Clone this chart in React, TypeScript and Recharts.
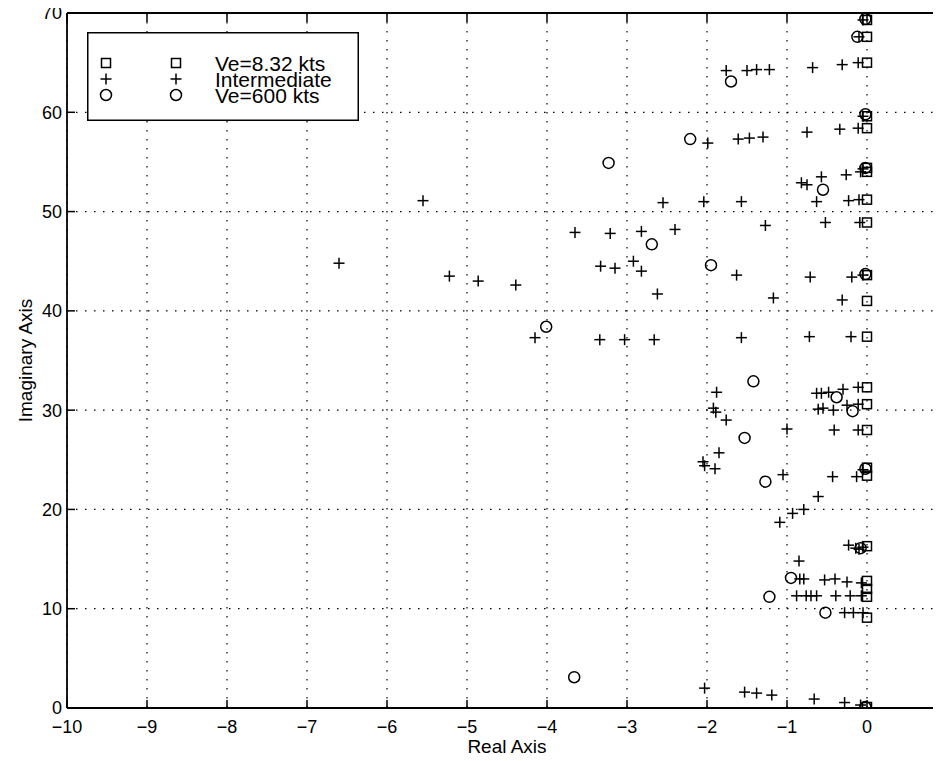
import React from 'react';
import { ScatterChart, Scatter, XAxis, YAxis, CartesianGrid, ReferenceLine } from 'recharts';

const xTicks = [-10, -9, -8, -7, -6, -5, -4, -3, -2, -1, 0];
const yTicks = [0, 10, 20, 30, 40, 50, 60, 70];
const seriesNames = ['Ve=8.32 kts', 'Intermediate', 'Ve=600 kts'];

// Ve = 8.32 kts (squares)
const lowSpeedPoles: [number, number][] = [
  [0, 69.3], [0, 67.6], [0, 65.0], [0, 59.6], [0, 58.4], [0, 54.4], [0, 54.0], [0, 51.2],
  [0, 48.9], [0, 43.6], [0, 41.0], [0, 37.4], [0, 32.3], [0, 30.6], [0, 28.0], [0, 24.2],
  [0, 23.4], [0, 16.3], [0, 12.8], [0, 12.0], [0, 11.2], [0, 9.1], [0, 0.1],
];

// Intermediate speeds (plus)
const intermediatePoles: [number, number][] = [
  [-0.05, 69.3], [-0.1, 67.6],
  [-1.76, 64.2], [-1.5, 64.2], [-1.38, 64.3], [-1.22, 64.3], [-0.68, 64.5], [-0.31, 64.8], [-0.11, 65.0],
  [-0.05, 59.6],
  [-1.99, 56.9], [-1.61, 57.3], [-1.47, 57.4], [-1.3, 57.5], [-0.75, 58.0], [-0.34, 58.3], [-0.11, 58.4],
  [-0.82, 52.9], [-0.75, 52.7], [-0.57, 53.5], [-0.26, 53.7], [-0.08, 54.0], [-0.05, 54.3],
  [-5.55, 51.1], [-2.55, 50.9], [-2.04, 51.0], [-1.57, 51.0], [-0.63, 51.0], [-0.23, 51.1], [-0.1, 51.2],
  [-3.65, 47.9], [-3.21, 47.8], [-2.82, 48.0], [-2.4, 48.2], [-1.27, 48.6], [-0.52, 48.9], [-0.09, 48.9],
  [-6.6, 44.8], [-3.33, 44.5], [-3.15, 44.3], [-2.92, 45.0], [-2.82, 44.0], [-1.63, 43.6], [-0.71, 43.4],
  [-0.19, 43.4], [-0.05, 43.6],
  [-5.22, 43.5], [-4.86, 43.0], [-4.39, 42.6],
  [-2.62, 41.7], [-1.17, 41.3], [-0.31, 41.1],
  [-4.15, 37.3], [-3.34, 37.1], [-3.03, 37.1], [-2.66, 37.1], [-1.57, 37.3], [-0.72, 37.4], [-0.2, 37.4],
  [-1.88, 31.8], [-0.63, 31.7], [-0.57, 31.7], [-0.48, 31.8], [-0.3, 32.1], [-0.11, 32.3],
  [-1.92, 30.2], [-1.89, 29.8], [-0.61, 30.1], [-0.55, 30.2], [-0.42, 30.0], [-0.25, 30.5], [-0.11, 30.6],
  [-1.76, 29.0], [-1.0, 28.1], [-0.41, 28.0], [-0.11, 28.0],
  [-1.85, 25.7], [-2.05, 24.8], [-2.03, 24.4], [-1.9, 24.1], [-0.05, 24.0],
  [-1.05, 23.5], [-0.43, 23.3], [-0.13, 23.3],
  [-0.61, 21.3], [-0.79, 20.0], [-0.93, 19.6], [-1.09, 18.7],
  [-0.23, 16.4], [-0.14, 16.1], [-0.1, 16.0], [-0.05, 16.2],
  [-0.85, 14.8],
  [-0.84, 13.0], [-0.79, 13.0], [-0.53, 12.9], [-0.4, 13.0], [-0.25, 12.7], [-0.07, 12.6],
  [-0.88, 11.3], [-0.76, 11.3], [-0.7, 11.3], [-0.63, 11.3], [-0.39, 11.3], [-0.21, 11.3], [-0.07, 11.3],
  [-0.28, 9.6], [-0.17, 9.6], [-0.05, 9.6],
  [-2.03, 2.0], [-1.53, 1.6], [-1.38, 1.5], [-1.19, 1.3], [-0.66, 0.9], [-0.28, 0.55], [-0.08, 0.3],
];

// Ve = 600 kts (circles)
const highSpeedPoles: [number, number][] = [
  [-0.02, 69.4], [-0.12, 67.6], [-1.7, 63.1], [-2.21, 57.3], [-0.02, 59.8], [-3.23, 54.9], [-0.02, 54.4],
  [-0.55, 52.2], [-2.69, 46.7], [-1.95, 44.6], [-0.02, 43.7], [-4.01, 38.4], [-1.42, 32.9], [-0.38, 31.3],
  [-0.18, 29.9], [-1.53, 27.2], [-0.02, 24.1], [-1.27, 22.8], [-0.08, 16.1], [-0.95, 13.1], [-1.22, 11.2],
  [-0.52, 9.6], [-3.66, 3.1], [-0.02, 0.1],
];

const toData = (pts: [number, number][]) => pts.map(([x, y]) => ({ x, y }));

const FONT = '"Liberation Sans", Arial, Helvetica, sans-serif';
const SW = 1.5;

const SquareShape = (p: any) => (
  <rect x={p.cx - 4.5} y={p.cy - 4.5} width={9} height={9} fill="none" stroke="#000" strokeWidth={SW} />
);
const PlusShape = (p: any) => (
  <g stroke="#000" strokeWidth={SW}>
    <line x1={p.cx - 5.5} x2={p.cx + 5.5} y1={p.cy} y2={p.cy} />
    <line x1={p.cx} x2={p.cx} y1={p.cy - 5.5} y2={p.cy + 5.5} />
  </g>
);
const CircleShape = (p: any) => (
  <circle cx={p.cx} cy={p.cy} r={5.5} fill="none" stroke="#000" strokeWidth={SW} />
);

const fmt = (v: number) => (v < 0 ? '\u2212' + Math.abs(v) : String(v));

const XLabel = (props: any) => {
  const vb = props.viewBox || {};
  return (
    <text x={vb.x + vb.width / 2} y={vb.y + 45} textAnchor="middle" fontFamily={FONT} fontSize={19} fill="#000">
      Real Axis
    </text>
  );
};
const YLabel = (props: any) => {
  const vb = props.viewBox || {};
  const cx = 25;
  const cy = vb.y + vb.height / 2;
  return (
    <text x={cx} y={cy} transform={`rotate(-90 ${cx} ${cy})`} textAnchor="middle" dominantBaseline="central"
      fontFamily={FONT} fontSize={19} fill="#000">
      Imaginary Axis
    </text>
  );
};

const LegendBox = () => {
  const rows = [31, 47, 63];
  const shapes = [SquareShape, PlusShape, CircleShape];
  return (
    <div style={{ position: 'absolute', left: 87, top: 32, width: 272, height: 89 }}>
      <svg width={272} height={89}>
        <rect x={0.75} y={0.75} width={270.5} height={87.5} fill="#fff" stroke="#000" strokeWidth={1.5} />
        {rows.map((cy, i) => {
          const S = shapes[i];
          return (
            <g key={i}>
              <S cx={19} cy={cy} />
              <S cx={89} cy={cy} />
              <text x={128} y={cy + 7.5} fontFamily={FONT} fontSize={21} fill="#000">
                {seriesNames[i]}
              </text>
            </g>
          );
        })}
      </svg>
    </div>
  );
};

export default function App() {
  return (
    <div style={{ position: 'relative', width: 941, height: 761, overflow: 'hidden', margin: -8, background: '#fff' }}>
      <ScatterChart width={947} height={761} margin={{ top: 13, right: 0, bottom: 0, left: 0 }}>
        <CartesianGrid stroke="#000" strokeWidth={1.2} strokeDasharray="1.5 7.5" horizontalValues={yTicks} verticalValues={xTicks} />
        <XAxis
          type="number"
          dataKey="x"
          domain={[-10, 1]}
          ticks={xTicks}
          allowDataOverflow
          height={53}
          tickSize={0}
          tickMargin={12}
          tickFormatter={fmt}
          axisLine={{ stroke: '#000', strokeWidth: 1.8 }}
          tick={{ fill: '#000', fontSize: 18, fontFamily: FONT }}
          label={<XLabel />}
        />
        <YAxis
          type="number"
          dataKey="y"
          domain={[0, 70]}
          ticks={yTicks}
          allowDataOverflow
          width={67}
          tickSize={0}
          tickMargin={5}
          axisLine={{ stroke: '#000', strokeWidth: 1.8 }}
          tick={{ fill: '#000', fontSize: 18, fontFamily: FONT }}
          label={<YLabel />}
        />
        <ReferenceLine y={70} stroke="#000" strokeWidth={1.8} />
        {xTicks.map((t) => (
          <ReferenceLine key={'xb' + t} segment={[{ x: t, y: 0 }, { x: t, y: 0.8 }]} stroke="#000" strokeWidth={1.5} />
        ))}
        {xTicks.map((t) => (
          <ReferenceLine key={'xt' + t} segment={[{ x: t, y: 70 }, { x: t, y: 69.1 }]} stroke="#000" strokeWidth={1.5} />
        ))}
        {yTicks.map((t) => (
          <ReferenceLine key={'yl' + t} segment={[{ x: -10, y: t }, { x: -9.9, y: t }]} stroke="#000" strokeWidth={1.5} />
        ))}
        <Scatter name={seriesNames[0]} data={toData(lowSpeedPoles)} shape={SquareShape} isAnimationActive={false} />
        <Scatter name={seriesNames[1]} data={toData(intermediatePoles)} shape={PlusShape} isAnimationActive={false} />
        <Scatter name={seriesNames[2]} data={toData(highSpeedPoles)} shape={CircleShape} isAnimationActive={false} />
      </ScatterChart>
      <LegendBox />
    </div>
  );
}
